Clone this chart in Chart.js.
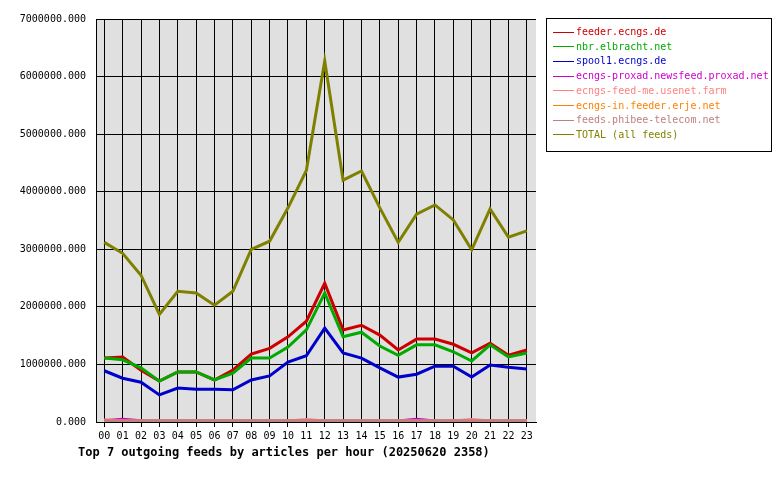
<!DOCTYPE html><html><head><script src="https://cdn.jsdelivr.net/npm/chart.js@4"></script>
<style>body{margin:0;background:#fff;font-family:"DejaVu Sans Mono",monospace}
#wrap{position:relative;width:780px;height:480px}
#legend{position:absolute;left:546px;top:18px;width:226px;height:134px;border:1px solid #000;box-sizing:border-box;font-size:10px;padding:6px 0 0 6px;line-height:14.7px}
#legend div{white-space:nowrap}
#legend span.sw{display:inline-block;width:21px;height:1px;vertical-align:middle;margin-right:2px}
#title{position:absolute;left:78px;top:445px;font-size:12px;font-weight:bold}
</style></head><body><div id="wrap"><canvas id="c" width="780" height="480"></canvas><div id="legend"></div><div id="title">Top 7 outgoing feeds by articles per hour (20250620 2358)</div></div>
<script>
const hours=["00","01","02","03","04","05","06","07","08","09","10","11","12","13","14","15","16","17","18","19","20","21","22","23"];
const feederEcngs=[1110000,1130000,900000,710000,870000,870000,730000,900000,1180000,1280000,1480000,1750000,2410000,1600000,1680000,1510000,1250000,1440000,1440000,1350000,1200000,1370000,1160000,1250000];
const nbrElbracht=[1110000,1080000,940000,710000,870000,870000,730000,850000,1110000,1110000,1300000,1600000,2240000,1480000,1560000,1320000,1160000,1340000,1340000,1220000,1060000,1340000,1130000,1200000];
const spool1=[890000,760000,690000,470000,590000,570000,570000,560000,730000,800000,1040000,1150000,1630000,1200000,1110000,940000,780000,830000,970000,970000,780000,990000,950000,920000];
const proxad=[15000,40000,15000,10000,10000,10000,10000,10000,10000,10000,10000,10000,10000,10000,10000,10000,10000,40000,10000,10000,10000,10000,10000,10000];
const feedMe=[30000,15000,10000,10000,10000,10000,10000,10000,10000,10000,10000,35000,10000,10000,10000,10000,10000,10000,10000,10000,35000,10000,10000,10000];
const erje=[5000,5000,5000,5000,5000,5000,5000,5000,5000,5000,5000,5000,5000,5000,5000,5000,5000,5000,5000,5000,5000,5000,5000,5000];
const phibee=[12000,12000,12000,12000,12000,12000,12000,12000,12000,12000,12000,12000,12000,12000,12000,12000,12000,12000,12000,12000,12000,12000,12000,12000];
const total=[3120000,2930000,2550000,1870000,2270000,2240000,2030000,2270000,3000000,3140000,3720000,4370000,6270000,4200000,4360000,3720000,3120000,3610000,3770000,3510000,2990000,3700000,3210000,3320000];
const yTicks=[0,1000000,2000000,3000000,4000000,5000000,6000000,7000000];
const series=[
["feeder.ecngs.de",feederEcngs,"#cc0000"],
["nbr.elbracht.net",nbrElbracht,"#00aa00"],
["spool1.ecngs.de",spool1,"#0000cc"],
["ecngs-proxad.newsfeed.proxad.net",proxad,"#cc00cc"],
["ecngs-feed-me.usenet.farm",feedMe,"#ff8080"],
["ecngs-in.feeder.erje.net",erje,"#ff8000"],
["feeds.phibee-telecom.net",phibee,"#c08080"],
["TOTAL (all feeds)",total,"#808000"]];
const lg=document.getElementById('legend');
series.forEach(s=>{const d=document.createElement('div');d.style.color=s[2];d.innerHTML='<span class="sw" style="background:'+s[2]+'"></span>'+s[0];lg.appendChild(d);});
const order=[6,5,4,3,2,1,0,7];
const bg={id:'bg',beforeDraw(c){const a=c.chartArea,x=c.ctx;x.save();x.fillStyle='#e0e0e0';x.fillRect(a.left,a.top,a.right-a.left,a.bottom-a.top);x.restore();}};
new Chart(document.getElementById('c'),{type:'line',
data:{datasets:order.map(i=>({label:series[i][0],data:series[i][1].map((v,j)=>({x:j,y:v})),borderColor:series[i][2],borderWidth:i>2&&i<7?4:3,pointRadius:0,tension:0,fill:false}))},
options:{responsive:false,animation:false,layout:{padding:{top:19,right:244,left:0,bottom:0}},
plugins:{legend:{display:false},tooltip:{enabled:false}},
scales:{
x:{type:'linear',min:-0.45,max:23.5,afterFit:s=>{s.height=58},afterBuildTicks:s=>{s.ticks=hours.map((h,i)=>({value:i}))},
ticks:{autoSkip:false,maxRotation:0,color:'#000',font:{family:'DejaVu Sans Mono',size:10},callback:(v)=>hours[v]},
grid:{color:'#000',lineWidth:1,tickLength:5,drawTicks:true},border:{color:'#000'}},
y:{min:0,max:7000000,afterFit:s=>{s.width=96},afterBuildTicks:s=>{s.ticks=yTicks.map(v=>({value:v}))},
ticks:{color:'#000',padding:10,font:{family:'DejaVu Sans Mono',size:10},callback:v=>v.toFixed(3)},
grid:{color:'#000',lineWidth:1,drawTicks:false},border:{color:'#000'}}}},plugins:[bg]});
</script></body></html>
